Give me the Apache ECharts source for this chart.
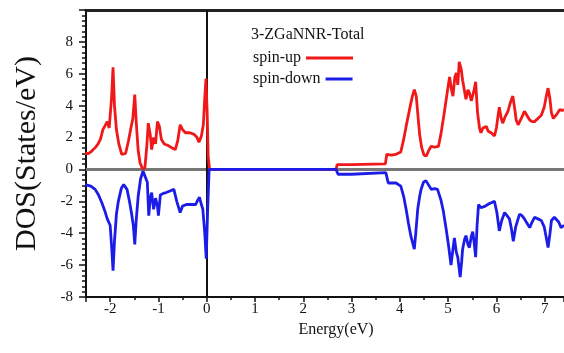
<!DOCTYPE html>
<html><head>
<meta charset="UTF-8">
<title>3-ZGaNNR-Total DOS</title>
<script src="https://cdn.jsdelivr.net/npm/echarts@6/dist/echarts.min.js"></script>
<style>html,body{margin:0;padding:0;background:#fff;}#dosDiv{width:564px;height:353px;}</style>
</head>
<body>
<div id="dosDiv"></div>
<script>
// spin-up total DOS (energy eV / states per eV)
var upE = [-2.52,-2.45,-2.4,-2.35,-2.3,-2.25,-2.2,-2.15,-2.12,-2.06,-2.02,-1.97,-1.94,-1.91,-1.87,-1.82,-1.76,-1.68,-1.62,-1.57,-1.53,-1.49,-1.46,-1.42,-1.38,-1.33,-1.28,-1.24,-1.21,-1.17,-1.14,-1.1,-1.06,-1.02,-0.98,-0.94,-0.88,-0.8,-0.72,-0.65,-0.6,-0.55,-0.5,-0.44,-0.35,-0.26,-0.2,-0.16,-0.11,-0.07,-0.04,-0.015,0.01,0.03,0.06,
  2.68,2.7,3.0,3.02,3.7,3.73,3.82,3.92,4.02,4.08,4.13,4.2,4.26,4.3,4.34,4.37,4.41,4.45,4.5,4.55,4.6,4.65,4.72,4.8,4.85,4.92,4.98,5.03,5.07,5.1,5.14,5.17,5.2,5.23,5.27,5.3,5.34,5.37,5.41,5.44,5.48,5.51,5.54,5.57,5.59,5.61,5.65,5.68,5.72,5.76,5.79,5.83,5.89,5.96,6.0,6.04,6.06,6.1,6.13,6.18,6.24,6.29,6.34,6.38,6.41,6.45,6.48,6.53,6.58,6.63,6.69,6.74,6.79,6.86,6.93,6.99,7.04,7.07,7.11,7.14,7.18,7.21,7.26,7.31,7.36,7.4];
var upDos = [1.0,1.0,1.1,1.25,1.4,1.6,1.9,2.5,2.6,3.0,2.6,4.5,6.4,4.0,2.5,1.6,0.95,1.0,1.8,2.6,3.2,4.7,3.0,1.2,0.4,0.05,0.1,1.5,2.9,2.2,1.25,2.0,1.6,3.0,2.7,1.9,1.6,1.5,1.35,1.25,1.8,2.8,2.5,2.3,2.3,2.2,2.0,1.7,2.1,2.8,4.5,5.7,3.5,0.8,0,
  0,0.3,0.3,0.35,0.35,0.95,0.9,0.95,1.1,1.9,2.7,3.75,4.6,5.0,4.6,3.55,2.2,1.4,0.9,0.85,1.2,1.45,1.4,1.45,2.2,3.55,4.8,5.8,5.0,4.6,5.8,6.05,5.3,6.75,6.3,5.6,4.9,4.4,5.0,4.8,4.3,4.3,5.0,5.5,4.5,3.55,2.6,2.3,2.6,2.7,2.7,2.4,2.3,2.1,2.6,3.5,3.9,3.2,2.9,3.3,3.65,4.2,4.6,3.8,3.1,2.8,2.8,3.3,3.65,3.4,3.1,3.0,3.0,3.2,3.4,3.9,4.7,5.1,4.4,3.55,3.2,3.1,3.5,3.75,3.7,3.75];
// spin-down total DOS
var downE = [-2.52,-2.4,-2.31,-2.24,-2.17,-2.11,-2.06,-2.0,-1.97,-1.94,-1.91,-1.87,-1.83,-1.77,-1.72,-1.65,-1.6,-1.56,-1.52,-1.49,-1.46,-1.42,-1.37,-1.32,-1.28,-1.23,-1.2,-1.17,-1.14,-1.1,-1.06,-1.02,-1.0,-0.96,-0.9,-0.84,-0.76,-0.68,-0.62,-0.55,-0.5,-0.42,-0.32,-0.23,-0.18,-0.15,-0.11,-0.08,-0.04,-0.01,0.02,0.05,
  2.68,2.72,3.0,3.02,3.71,3.76,3.92,4.02,4.08,4.13,4.18,4.23,4.3,4.33,4.37,4.41,4.44,4.49,4.54,4.6,4.65,4.72,4.78,4.85,4.9,4.96,5.01,5.06,5.1,5.13,5.17,5.2,5.25,5.28,5.3,5.34,5.37,5.41,5.44,5.48,5.51,5.54,5.57,5.6,5.63,5.68,5.72,5.77,5.82,5.88,5.96,6.01,6.06,6.11,6.17,6.22,6.27,6.31,6.35,6.4,6.44,6.48,6.53,6.58,6.64,6.69,6.74,6.79,6.86,6.93,6.99,7.04,7.07,7.11,7.14,7.2,7.24,7.29,7.34,7.4];
var downDos = [-0.95,-1.05,-1.25,-1.6,-2.1,-2.6,-3.1,-3.5,-4.8,-6.35,-4.5,-2.8,-2.0,-1.2,-0.95,-1.25,-2.0,-2.7,-3.5,-4.7,-3.2,-1.7,-0.6,-0.1,-0.2,-0.8,-2.9,-1.8,-1.45,-2.5,-1.8,-2.3,-2.9,-1.6,-1.5,-1.45,-1.35,-1.25,-2.0,-2.7,-2.3,-2.2,-2.2,-2.2,-1.9,-1.75,-2.2,-2.5,-4.0,-5.6,-2.5,0,
  0,-0.3,-0.3,-0.2,-0.2,-0.85,-0.85,-1.05,-1.7,-2.5,-3.4,-4.2,-5.0,-4.0,-2.5,-1.7,-1.25,-0.8,-0.7,-1.0,-1.25,-1.2,-1.25,-1.9,-2.6,-3.75,-4.8,-6.0,-5.0,-4.3,-5.2,-5.5,-6.75,-5.8,-5.0,-4.4,-4.15,-4.7,-4.9,-4.2,-3.9,-4.6,-5.5,-3.5,-2.2,-2.4,-2.5,-2.3,-2.2,-2.1,-2.0,-2.7,-3.85,-3.2,-2.7,-2.9,-3.1,-3.7,-4.5,-3.6,-3.2,-2.8,-2.9,-3.1,-3.4,-3.65,-3.3,-3.0,-3.1,-3.2,-3.6,-4.4,-4.9,-4.0,-3.2,-3.0,-3.0,-3.3,-3.65,-3.5];
var legendNames = ['spin-up', 'spin-down'];
var titleText = '3-ZGaNNR-Total';

var serif = 'Liberation Serif';
var upColor = '#f01818';
var downColor = '#1c1ce8';

function pairs(e, d) {
	var out = [];
	for (var i = 0; i < e.length; i++) { out.push([e[i], d[i]]); }
	return out;
}

var option = {
	animation: false,
	title: {text: titleText, left: 251, top: 27, padding: 0,
		textStyle: {fontFamily: serif, fontSize: 16, fontWeight: 'normal', color: '#111'}},
	legend: [
		{data: [legendNames[0]], left: 253, top: 50, padding: 0, align: 'right', icon: 'rect',
			itemWidth: 47, itemHeight: 3, textStyle: {fontFamily: serif, fontSize: 16, color: '#111'}},
		{data: [legendNames[1]], left: 253, top: 71, padding: 0, align: 'right', icon: 'rect',
			itemWidth: 27, itemHeight: 3, textStyle: {fontFamily: serif, fontSize: 16, color: '#111'}}
	],
	grid: {left: 86, top: 10, right: 0, bottom: 56},
	xAxis: [{
		type: 'value', min: -2.5, max: 7.4, splitNumber: 10,
		axisLine: {show: true, onZero: false, lineStyle: {color: '#111', width: 2}},
		axisTick: {show: true, length: 5, lineStyle: {color: '#111', width: 1.5}},
		minorTick: {show: true, splitNumber: 2, length: 3, lineStyle: {color: '#111', width: 1.5}},
		splitLine: {show: false},
		axisLabel: {showMinLabel: false, showMaxLabel: false, margin: 5, color: '#111', fontFamily: serif, fontSize: 15},
		name: 'Energy(eV)', nameLocation: 'middle', nameGap: 18,
		nameTextStyle: {fontFamily: serif, fontSize: 16, color: '#111', padding: [0, 0, 0, 22]}
	}, {
		type: 'value', position: 'top', min: -2.5, max: 7.4,
		axisLine: {show: true, onZero: false, lineStyle: {color: '#222', width: 3}},
		axisTick: {show: false}, axisLabel: {show: false}, splitLine: {show: false}
	}],
	yAxis: {
		type: 'value', min: -8, max: 10, interval: 2,
		axisLine: {show: true, onZero: false, lineStyle: {color: '#111', width: 2}},
		axisTick: {show: true, length: 7, lineStyle: {color: '#111', width: 1.5}},
		minorTick: {show: true, splitNumber: 6, length: 4, lineStyle: {color: '#111', width: 1.5}},
		splitLine: {show: false},
		axisLabel: {showMaxLabel: false, margin: 13, color: '#111', fontFamily: serif, fontSize: 15},
		name: 'DOS(States/eV)', nameLocation: 'middle', nameGap: 44,
		nameTextStyle: {fontFamily: serif, fontSize: 30, color: '#111'}
	},
	series: [
		{name: 'zero', type: 'line', data: [], silent: true, z: 1,
			markLine: {silent: true, z: 1, symbol: 'none', label: {show: false}, animation: false,
				data: [
					{yAxis: 0, lineStyle: {color: '#777', width: 3, type: 'solid'}},
					{xAxis: 0, lineStyle: {color: '#111', width: 2, type: 'solid'}}
				]}},
		{name: legendNames[0], type: 'line', data: pairs(upE, upDos), symbol: 'none', z: 2,
			lineStyle: {color: upColor, width: 2.8}, itemStyle: {color: upColor}},
		{name: legendNames[1], type: 'line', data: pairs(downE, downDos), symbol: 'none', z: 3,
			lineStyle: {color: downColor, width: 2.8}, itemStyle: {color: downColor}}
	]
};
var dosChart = echarts.init(document.getElementById('dosDiv'));
dosChart.setOption(option, true);
</script>
</body>
</html>
